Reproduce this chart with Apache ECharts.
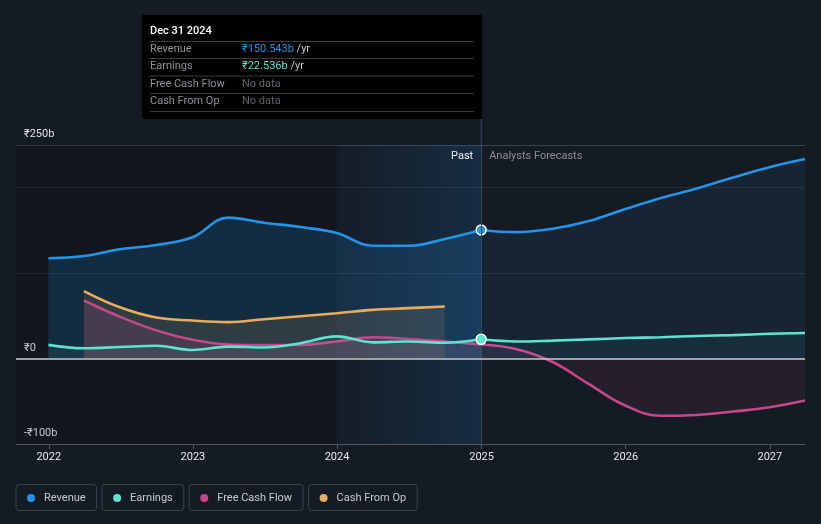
<!DOCTYPE html>
<html><head><meta charset="utf-8">
<script src="https://cdn.jsdelivr.net/npm/echarts@6/dist/echarts.min.js"></script>
<style>html,body{margin:0;padding:0;background:#151b25;}#c{width:821px;height:524px;}</style>
</head><body><div id="c"></div>
<script>
// ---------- data ----------
const pastDates = ['2021-12-31','2022-03-31','2022-06-30','2022-09-30','2022-12-31','2023-03-31','2023-06-30','2023-09-30','2023-12-31','2024-03-31','2024-06-30','2024-09-30','2024-12-31'];
const revenuePast  = [117.5, 120, 128, 133, 142, 165, 159, 154, 147, 132, 132, 140, 150.543];
const earningsPast = [16, 12, 13.5, 15, 10, 14, 13, 18, 26, 19, 20, 18.5, 22.536];
const fcfPast      = [null, 68, 49, 33, 22, 16.5, 15.8, 16, 20, 25, 23, 20, 16.5];
const cfoPast      = [null, 79, 60, 48, 44.5, 42.7, 46, 49.5, 53, 57, 59, 61, null];

const forecastDates = ['2024-12-31','2025-03-31','2025-06-30','2025-09-30','2025-12-31','2026-03-31','2026-06-30','2026-09-30','2026-12-31','2027-03-31'];
const revenueFc  = [150.543, 148, 152, 161, 175, 188, 199, 212, 224, 233.5];
const earningsFc = [22.536, 20, 21, 22.5, 24, 25, 26.5, 27.5, 29, 30];
const fcfFc      = [16.5, 11, -4, -30, -55, -67, -66, -62, -57, -49];

const yTickLabels = {'250': '₹250b', '0': '₹0', '-100': '-₹100b'};
const seriesNames = ['Revenue', 'Earnings', 'Free Cash Flow', 'Cash From Op'];
const tooltipTitle = 'Dec 31 2024';
const dividerDate = '2024-12-31';
const bandStart = '2023-12-31';
const axisMin = '2021-10-10';
const axisMax = '2027-03-31';

// ---------- style ----------
const C = {rev: '#2394e8', earn: '#5de3cf', fcf: '#c8468a', cfo: '#e8ac5c'};
const FONT = 'Roboto, "Noto Sans", sans-serif';

function pairs(dates, vals) {
  const out = [];
  dates.forEach((d, i) => { if (vals[i] !== null && vals[i] !== undefined) out.push([+new Date(d + 'T00:00:00'), vals[i]]); });
  return out;
}
function withMarker(data, date, color) {
  const t = +new Date(date + 'T00:00:00');
  return data.map(p => p[0] === t ? {value: p, symbol: 'circle', symbolSize: 10,
    itemStyle: {color: color, borderColor: '#ffffff', borderWidth: 1.5}} : p);
}
function hexA(hex, a) {
  const n = parseInt(hex.slice(1), 16);
  return `rgba(${(n >> 16) & 255},${(n >> 8) & 255},${n & 255},${a})`;
}
function lineSeries(name, data, color, areaAlpha, z) {
  return {
    name, type: 'line', data, smooth: 0.4,
    symbol: 'none', showSymbol: true, z: z || 3,
    lineStyle: {color, width: 2.6},
    itemStyle: {color},
    areaStyle: {color: hexA(color, areaAlpha), origin: 'auto'},
    emphasis: {disabled: true}
  };
}

const chart = echarts.init(document.getElementById('c'), null, {renderer: 'canvas'});

const option = {
  backgroundColor: '#151b25',
  animation: false,
  textStyle: {fontFamily: FONT},
  grid: {left: 16, right: 16, top: 145, bottom: 80, containLabel: false},
  xAxis: {
    type: 'time', min: +new Date(axisMin + 'T00:00:00'), max: +new Date(axisMax + 'T00:00:00'),
    minInterval: 365 * 24 * 3600 * 1000, splitNumber: 5,
    axisLine: {show: true, onZero: false, lineStyle: {color: '#50565f', width: 1}},
    axisTick: {show: true, length: 5, lineStyle: {color: '#50565f'}},
    axisLabel: {color: '#e6e8eb', fontSize: 11, margin: 8, formatter: '{yyyy}', fontFamily: FONT},
    splitLine: {show: false}
  },
  yAxis: {
    type: 'value', min: -100, max: 250, interval: 50,
    axisLine: {show: false}, axisTick: {show: false},
    axisLabel: {
      inside: true, margin: 8, align: 'left', verticalAlign: 'bottom', padding: [0, 0, 5, 0],
      color: '#dfe1e5', fontSize: 11, fontFamily: FONT,
      formatter: v => yTickLabels[String(v)] || ''
    },
    splitLine: {show: true, lineStyle: {width: 1,
      color: ['#50565f', 'rgba(0,0,0,0)', 'rgba(0,0,0,0)', 'rgba(0,0,0,0)', '#272e39', 'rgba(0,0,0,0)', '#262c36', '#3b414b']}}
  },
  legend: {
    data: seriesNames, left: 11, top: 484, padding: 0, itemGap: 0,
    itemWidth: 0, itemHeight: 0, icon: 'circle', selectedMode: false,
    formatter: name => `{d${seriesNames.indexOf(name)}|}{t|${name}}`,
    textStyle: {
      color: '#c5c9d0', fontSize: 11, fontFamily: FONT, lineHeight: 15,
      borderColor: '#3c424d', borderWidth: 1, borderRadius: 3, padding: [6, 11, 5, 11],
      rich: {
        d0: {width: 8, height: 8, borderRadius: 4, backgroundColor: C.rev},
        d1: {width: 8, height: 8, borderRadius: 4, backgroundColor: C.earn},
        d2: {width: 8, height: 8, borderRadius: 4, backgroundColor: C.fcf},
        d3: {width: 8, height: 8, borderRadius: 4, backgroundColor: C.cfo},
        t: {color: '#c5c9d0', fontSize: 11, fontFamily: FONT, padding: [0, 0, 0, 9]}
      }
    }
  },
  series: [
    {
      type: 'line', data: [], z: 1, silent: true,
      markArea: {silent: true, data: [
        [{xAxis: +new Date(axisMin + 'T00:00:00'), itemStyle: {color: 'rgba(0,0,0,0.14)'}}, {xAxis: +new Date(bandStart + 'T00:00:00')}],
        [{xAxis: +new Date(bandStart + 'T00:00:00'), itemStyle: {color: new echarts.graphic.LinearGradient(0, 0, 1, 0, [
          {offset: 0, color: 'rgba(33,150,243,0.01)'}, {offset: 1, color: 'rgba(33,150,243,0.14)'}])}},
         {xAxis: +new Date(dividerDate + 'T00:00:00')}]
      ]},
      markLine: {silent: true, symbol: ['none', 'none'], label: {show: false},
        lineStyle: {color: '#33475d', width: 1, type: 'solid'}, data: [{xAxis: +new Date(dividerDate + 'T00:00:00')}]}
    },
    lineSeries('Revenue', pairs(pastDates, revenuePast), C.rev, 0.24, 2),
    lineSeries('Revenue', withMarker(pairs(forecastDates, revenueFc), dividerDate, C.rev), C.rev, 0.11, 2),
    lineSeries('Cash From Op', pairs(pastDates, cfoPast), C.cfo, 0.18, 3),
    lineSeries('Free Cash Flow', pairs(pastDates, fcfPast), C.fcf, 0.2, 4),
    lineSeries('Free Cash Flow', pairs(forecastDates, fcfFc), C.fcf, 0.12, 4),
    lineSeries('Earnings', pairs(pastDates, earningsPast), C.earn, 0.1, 5),
    lineSeries('Earnings', withMarker(pairs(forecastDates, earningsFc), dividerDate, C.earn), C.earn, 0.07, 5),
    {
      type: 'line', data: [], z: 6, silent: true,
      markLine: {silent: true, symbol: ['none', 'none'], label: {show: false},
        lineStyle: {color: '#c9cbcf', width: 1.5, type: 'solid'}, data: [{yAxis: 0}]}
    }
  ]
};
chart.setOption(option);

// ---------- overlay: divider labels + tooltip box ----------
const xDiv = chart.convertToPixel({xAxisIndex: 0}, +new Date(dividerDate + 'T00:00:00'));
const yTop = chart.convertToPixel({yAxisIndex: 0}, 250);
const lastRev = revenuePast[revenuePast.length - 1];
const lastEarn = earningsPast[earningsPast.length - 1];
const fmt = v => '₹' + v.toFixed(3) + 'b';

const tipX = 142, tipY = 15, tipW = 340, tipH = 104;
const rowYs = [49, 66.5, 84, 101];
const sepYs = [41.5, 58.5, 76, 93.5, 111.5];
const rows = [
  {label: seriesNames[0], value: fmt(lastRev), color: C.rev},
  {label: seriesNames[1], value: fmt(lastEarn), color: C.earn},
  {label: seriesNames[2], value: null},
  {label: seriesNames[3], value: null}
];
const g = [];
g.push({type: 'line', silent: true, z: 1, shape: {x1: xDiv, y1: tipY + tipH, x2: xDiv, y2: yTop}, style: {stroke: '#33475d', lineWidth: 1}});
g.push({type: 'rect', silent: true, z: 10, shape: {x: tipX, y: tipY, width: tipW, height: tipH}, style: {fill: '#000000'}});
g.push({type: 'text', silent: true, z: 11, style: {text: tooltipTitle, x: tipX + 8, y: 31, fill: '#ffffff', fontSize: 11, fontWeight: 500, fontFamily: FONT, verticalAlign: 'middle'}});
sepYs.forEach(y => g.push({type: 'line', silent: true, z: 11, shape: {x1: tipX + 8, y1: y, x2: tipX + tipW - 8, y2: y}, style: {stroke: '#3a3c40', lineWidth: 1}}));
rows.forEach((r, i) => {
  g.push({type: 'text', silent: true, z: 11, style: {text: r.label, x: tipX + 8, y: rowYs[i], fill: '#8d9299', fontSize: 11, fontFamily: FONT, verticalAlign: 'middle'}});
  if (r.value) {
    g.push({type: 'text', silent: true, z: 11, style: {text: '{a|' + r.value + '} {b|/yr}', x: tipX + 100, y: rowYs[i], fontSize: 11, fontFamily: FONT, verticalAlign: 'middle',
      rich: {a: {fill: r.color, fontSize: 11, fontFamily: FONT}, b: {fill: '#c8ccd2', fontSize: 11, fontFamily: FONT}}}});
  } else {
    g.push({type: 'text', silent: true, z: 11, style: {text: 'No data', x: tipX + 100, y: rowYs[i], fill: '#5f646b', fontSize: 11, fontFamily: FONT, verticalAlign: 'middle'}});
  }
});
g.push({type: 'text', silent: true, z: 11, style: {text: 'Past', x: xDiv - 8, y: 156, align: 'right', verticalAlign: 'middle', fill: '#eceef0', fontSize: 11, fontFamily: FONT}});
g.push({type: 'text', silent: true, z: 11, style: {text: 'Analysts Forecasts', x: xDiv + 8, y: 156, align: 'left', verticalAlign: 'middle', fill: '#8c9097', fontSize: 11, fontFamily: FONT}});
chart.setOption({graphic: g});
</script>
</body></html>
